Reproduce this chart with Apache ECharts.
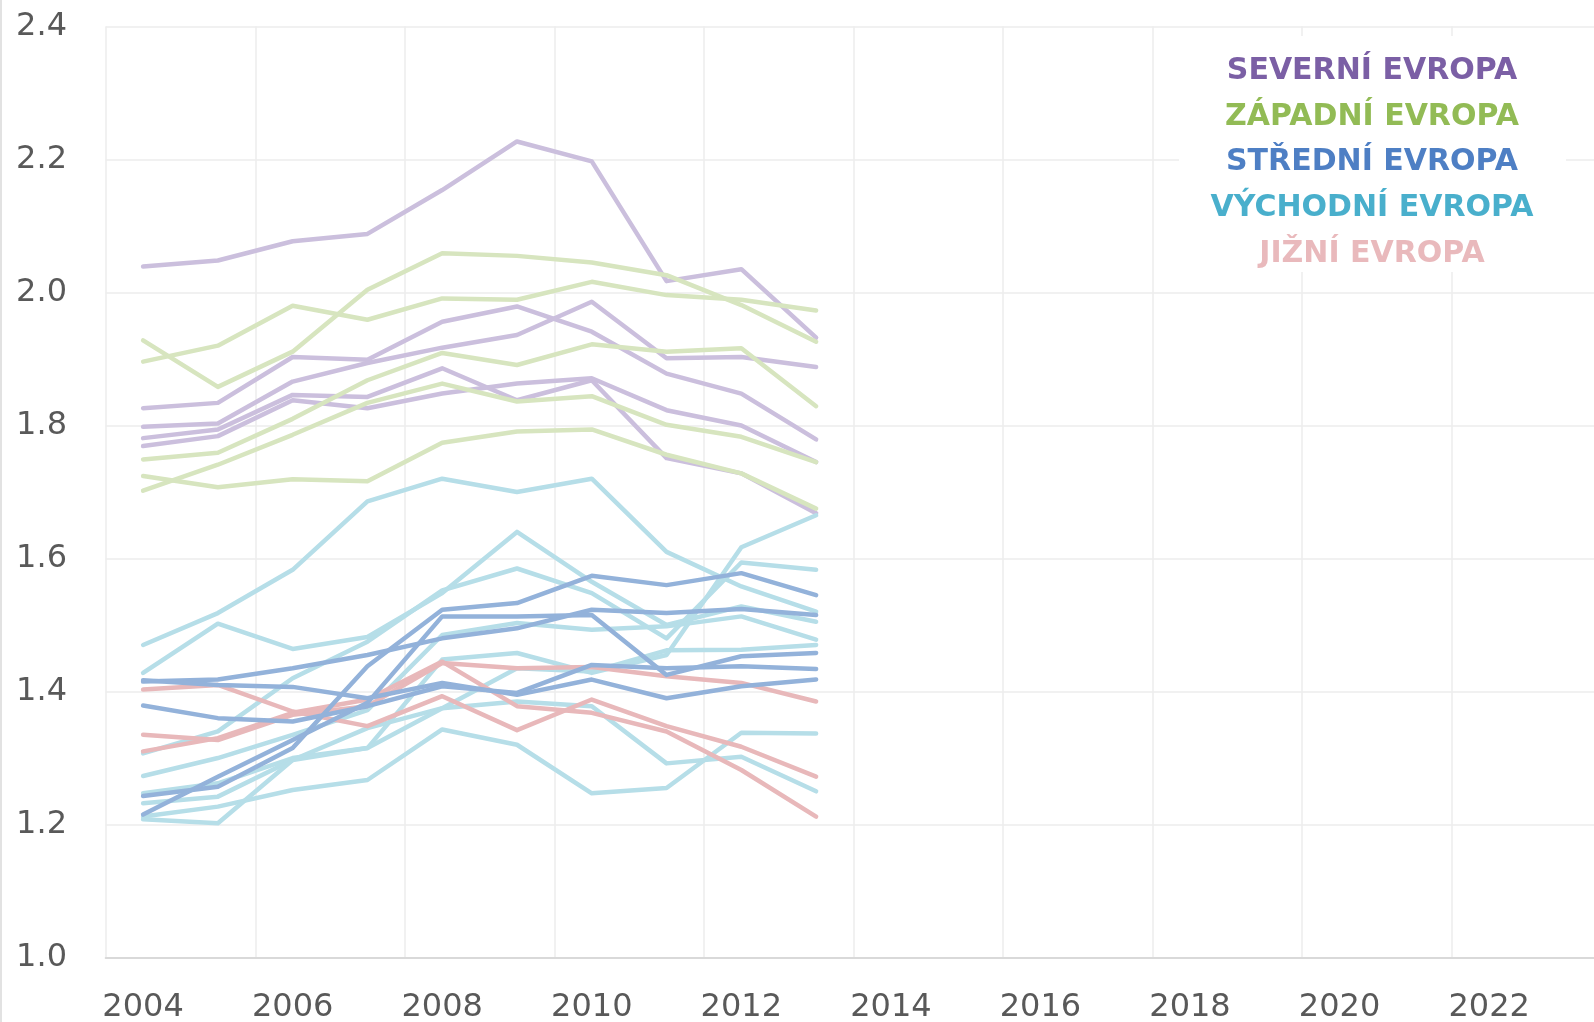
<!DOCTYPE html>
<html>
<head>
<meta charset="utf-8">
<script src="https://cdn.jsdelivr.net/npm/echarts@6/dist/echarts.min.js"></script>
<style>
  html, body { margin: 0; padding: 0; background: #fff; }
  #chart { width: 1594px; height: 1022px; }
</style>
</head>
<body>
<div id="chart"></div>
<script>
const years = ['2004', '2005', '2006', '2007', '2008', '2009', '2010', '2011', '2012', '2013',
  '2014', '2015', '2016', '2017', '2018', '2019', '2020', '2021', '2022', '2023'];

// one row per country, 2004-2013
const severni = [
  [2.039, 2.048, 2.077, 2.088, 2.154, 2.227, 2.197, 2.017, 2.035, 1.932],
  [1.826, 1.834, 1.903, 1.899, 1.956, 1.979, 1.941, 1.878, 1.848, 1.779],
  [1.798, 1.803, 1.866, 1.894, 1.917, 1.936, 1.986, 1.901, 1.903, 1.888],
  [1.781, 1.794, 1.846, 1.843, 1.886, 1.838, 1.868, 1.751, 1.728, 1.668],
  [1.769, 1.784, 1.838, 1.826, 1.848, 1.863, 1.871, 1.823, 1.800, 1.745],
];
const zapadni = [
  [1.928, 1.858, 1.911, 2.004, 2.059, 2.055, 2.045, 2.026, 1.981, 1.926],
  [1.896, 1.920, 1.980, 1.959, 1.991, 1.989, 2.016, 1.996, 1.989, 1.973],
  [1.749, 1.759, 1.810, 1.868, 1.909, 1.891, 1.922, 1.911, 1.916, 1.829],
  [1.702, 1.741, 1.786, 1.834, 1.863, 1.836, 1.844, 1.801, 1.783, 1.745],
  [1.724, 1.707, 1.719, 1.716, 1.774, 1.791, 1.794, 1.756, 1.728, 1.675],
];
const stredni = [
  [1.243, 1.257, 1.315, 1.438, 1.523, 1.533, 1.574, 1.560, 1.578, 1.545],
  [1.415, 1.418, 1.435, 1.455, 1.480, 1.495, 1.523, 1.518, 1.524, 1.515],
  [1.215, 1.272, 1.327, 1.383, 1.513, 1.513, 1.515, 1.425, 1.453, 1.458],
  [1.417, 1.410, 1.407, 1.390, 1.413, 1.395, 1.418, 1.390, 1.408, 1.418],
  [1.379, 1.360, 1.355, 1.378, 1.408, 1.398, 1.440, 1.435, 1.438, 1.434],
];
const vychodni = [
  [1.470, 1.518, 1.583, 1.686, 1.720, 1.700, 1.720, 1.610, 1.558, 1.520],
  [1.428, 1.502, 1.464, 1.482, 1.548, 1.640, 1.565, 1.500, 1.528, 1.505],
  [1.307, 1.340, 1.420, 1.475, 1.552, 1.585, 1.548, 1.480, 1.594, 1.583],
  [1.273, 1.300, 1.335, 1.372, 1.485, 1.503, 1.493, 1.498, 1.513, 1.478],
  [1.247, 1.262, 1.300, 1.315, 1.448, 1.458, 1.428, 1.455, 1.617, 1.665],
  [1.232, 1.242, 1.297, 1.345, 1.375, 1.435, 1.430, 1.462, 1.463, 1.470],
  [1.212, 1.227, 1.252, 1.267, 1.343, 1.320, 1.247, 1.255, 1.338, 1.337],
  [1.208, 1.202, 1.297, 1.315, 1.375, 1.385, 1.378, 1.292, 1.302, 1.250],
];
const jizni = [
  [1.403, 1.410, 1.370, 1.348, 1.393, 1.342, 1.388, 1.348, 1.317, 1.272],
  [1.335, 1.327, 1.365, 1.378, 1.443, 1.435, 1.437, 1.423, 1.413, 1.385],
  [1.310, 1.330, 1.368, 1.388, 1.445, 1.378, 1.368, 1.340, 1.282, 1.212],
];

// drawing order: bottom to top
const regions = [
  { name: 'SEVERNÍ EVROPA', rows: severni, line: '#cbbfdd', text: '#7b5fa5' },
  { name: 'ZÁPADNÍ EVROPA', rows: zapadni, line: '#d7e5bf', text: '#92bb55' },
  { name: 'VÝCHODNÍ EVROPA', rows: vychodni, line: '#b6dee8', text: '#49afcc' },
  { name: 'JIŽNÍ EVROPA', rows: jizni, line: '#e8b8ba', text: '#e9b9bc' },
  { name: 'STŘEDNÍ EVROPA', rows: stredni, line: '#93b2da', text: '#4e7fc4' },
];
const legendOrder = ['SEVERNÍ EVROPA', 'ZÁPADNÍ EVROPA', 'STŘEDNÍ EVROPA', 'VÝCHODNÍ EVROPA', 'JIŽNÍ EVROPA'];

const chart = echarts.init(document.getElementById('chart'));

const series = [];
regions.forEach((r) => {
  r.rows.forEach((row) => {
    series.push({
      name: r.name,
      type: 'line',
      data: row,
      symbol: 'none',
      silent: true,
      lineStyle: { color: r.line, width: 4.5, cap: 'round', join: 'round' },
    });
  });
});

const legendTexts = legendOrder.map((name, i) => {
  const r = regions.find((g) => g.name === name);
  return {
    type: 'text',
    x: 1372,
    y: 71 + i * 45.8,
    style: {
      text: name,
      fill: r.text,
      font: 'bold 30px "DejaVu Sans"',
      textAlign: 'center',
      textVerticalAlign: 'middle',
    },
    z: 101,
  };
});

const option = {
  animation: false,
  backgroundColor: '#fff',
  textStyle: { fontFamily: '"DejaVu Sans", sans-serif' },
  grid: { left: 105.7, right: -7.3, top: 26.4, bottom: 64.4, outerBoundsMode: 'none' },
  xAxis: {
    type: 'category',
    data: years,
    boundaryGap: true,
    axisLine: { lineStyle: { color: '#d9d9d9', width: 2 } },
    axisTick: { show: false },
    axisLabel: { interval: 1, color: '#595959', fontSize: 32, margin: 34 },
    splitLine: { show: true, interval: 1, lineStyle: { color: '#ececec', width: 1.5 } },
  },
  yAxis: {
    type: 'value',
    min: 1.0,
    max: 2.4,
    interval: 0.2,
    axisLine: { show: false },
    axisTick: { show: false },
    axisLabel: {
      color: '#595959',
      fontSize: 32,
      margin: 38.7,
      formatter: (v) => v.toFixed(1),
    },
    splitLine: { lineStyle: { color: '#ececec', width: 1.5 } },
  },
  graphic: [
    {
      type: 'line',
      shape: { x1: 1, y1: 0, x2: 1, y2: 1022 },
      style: { stroke: '#d9d9d9', lineWidth: 1.5 },
    },
    {
      type: 'rect',
      shape: { x: 1179, y: 36, width: 387, height: 236 },
      style: { fill: '#fff' },
      z: 100,
    },
    ...legendTexts,
  ],
  series: series,
};

chart.setOption(option);
</script>
</body>
</html>
